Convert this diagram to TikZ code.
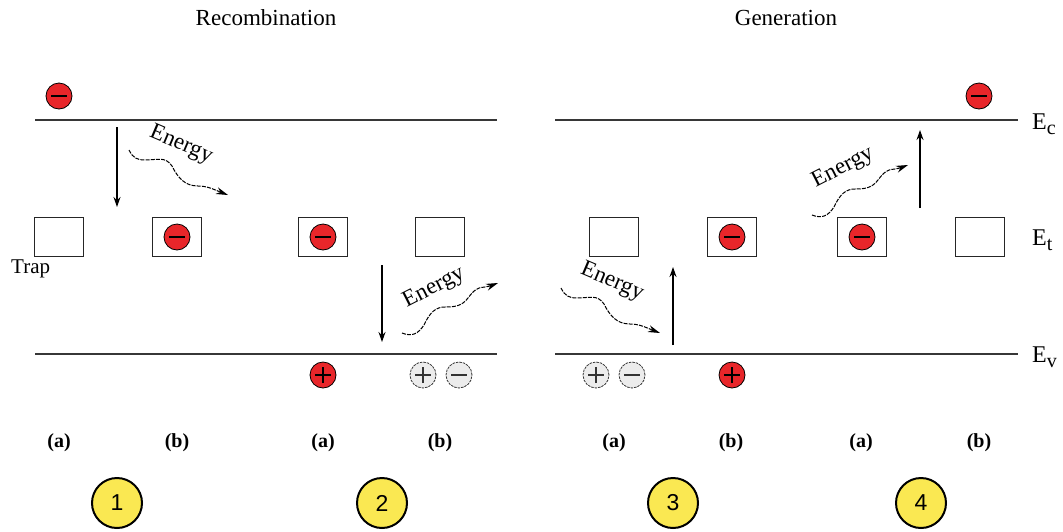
\documentclass[tikz,border=0pt]{standalone}
\usepackage{fontspec}
\setmainfont{Liberation Serif}
\newfontfamily\numfont{Liberation Sans}
\usetikzlibrary{arrows.meta}

\definecolor{elred}{RGB}{232,38,42}
\definecolor{spot}{RGB}{250,232,82}
\definecolor{ghost}{RGB}{236,236,236}
\definecolor{bandgray}{RGB}{55,55,55}

\tikzset{
  bandline/.style={line width=1.6pt, draw=bandgray},
  trapbox/.style={draw=black!85, line width=1.3pt, minimum width=49pt,
    minimum height=39pt, inner sep=0pt},
  minusbar/.style={path picture={\draw[line width=1.2pt, solid]
      ([xshift=-8pt]path picture bounding box.center) --
      ([xshift=8pt]path picture bounding box.center);}},
  plusbar/.style={path picture={\draw[line width=1.2pt, solid]
      ([xshift=-8pt]path picture bounding box.center) --
      ([xshift=8pt]path picture bounding box.center)
      ([yshift=-8pt]path picture bounding box.center) --
      ([yshift=8pt]path picture bounding box.center);}},
  carrier/.style={circle, minimum size=26pt, inner sep=0pt},
  electron/.style={carrier, fill=elred, draw=black, line width=0.8pt, minusbar},
  hole/.style={carrier, fill=elred, draw=black, line width=0.8pt, plusbar},
  ghostminus/.style={carrier, fill=ghost, draw=black!80, line width=0.8pt,
    dash pattern=on 2.5pt off 1pt, minusbar},
  ghostplus/.style={carrier, fill=ghost, draw=black!80, line width=0.8pt,
    dash pattern=on 2.5pt off 1pt, plusbar},
  jump/.style={line width=1.2pt, -{Stealth[length=10pt,width=7pt]}},
  wavy/.style={line width=1pt, dash pattern=on 4pt off 1.2pt,
    -{Stealth[length=12pt,width=7pt]}},
  energy/.style={font=\fontsize{23}{23}\selectfont, inner sep=1pt},
  title/.style={font=\fontsize{23}{23}\selectfont},
  caselabel/.style={font=\bfseries\fontsize{20}{20}\selectfont},
  stage/.style={circle, fill=spot, draw=black, line width=2pt,
    minimum size=50pt, inner sep=0pt, font=\numfont\fontsize{23}{23}\selectfont},
  level/.style={anchor=base west, inner sep=0pt, font=\fontsize{24}{24}\selectfont}
}

\newcommand{\lvl}[1]{E{\fontsize{20}{20}\selectfont\raisebox{-5pt}{#1}}}

\begin{document}
\begin{tikzpicture}[x=1pt, y=-1pt]
  \useasboundingbox (0,0) rectangle (1063,531);

  % titles
  \node[title] (trec) at (266,18) {Recombination};
  \node[title] (tgen) at (786,18) {Generation};

  % band edges
  \coordinate (ecL1) at (35,120);  \coordinate (ecL2) at (497,120);
  \coordinate (ecR1) at (555,120); \coordinate (ecR2) at (1018,120);
  \coordinate (evL1) at (35,354);  \coordinate (evL2) at (497,354);
  \coordinate (evR1) at (555,354); \coordinate (evR2) at (1018,354);
  \draw[bandline] (ecL1) -- (ecL2);
  \draw[bandline] (ecR1) -- (ecR2);
  \draw[bandline] (evL1) -- (evL2);
  \draw[bandline] (evR1) -- (evR2);

  % level labels
  \node[level] (lc) at (1032,129) {\lvl{c}};
  \node[level] (lt) at (1032,245) {\lvl{t}};
  \node[level] (lv) at (1032,362) {\lvl{v}};

  % traps
  \node[trapbox] (t1) at (59,237) {};
  \node[trapbox] (t2) at (177,237) {};
  \node[trapbox] (t3) at (323,237) {};
  \node[trapbox] (t4) at (440,237) {};
  \node[trapbox] (t5) at (614,237) {};
  \node[trapbox] (t6) at (732,237) {};
  \node[trapbox] (t7) at (862,237) {};
  \node[trapbox] (t8) at (980,237) {};
  \node[font=\fontsize{21}{21}\selectfont, anchor=west, inner sep=0pt] (trap) at (11,269) {Trap};

  % carriers
  \node[electron] (e1) at (59,96) {};
  \node[electron] (e2) at (t2) {};
  \node[electron] (e3) at (t3) {};
  \node[electron] (e6) at (t6) {};
  \node[electron] (e7) at (t7) {};
  \node[electron] (e8) at (979,96) {};
  \node[hole] (h3) at (323,375) {};
  \node[hole] (h6) at (732,375) {};
  \node[ghostplus] (g4p) at (423,375) {};
  \node[ghostminus] (g4m) at (459,375) {};
  \node[ghostplus] (g5p) at (596,375) {};
  \node[ghostminus] (g5m) at (632,375) {};

  % transitions
  \coordinate (a1s) at (117,127); \coordinate (a1e) at (117,207);
  \coordinate (a2s) at (382,265); \coordinate (a2e) at (382,342);
  \coordinate (a3s) at (673,345); \coordinate (a3e) at (673,267);
  \coordinate (a4s) at (920,208); \coordinate (a4e) at (920,130);
  \draw[jump] (a1s) -- (a1e);
  \draw[jump] (a2s) -- (a2e);
  \draw[jump] (a3s) -- (a3e);
  \draw[jump] (a4s) -- (a4e);

  % energy quanta: released (1, 2) and absorbed (3, 4)
  \draw[wavy] (129,150) .. controls (133,158) and (137,160) .. (145,160)
    .. controls (158,160) and (165,156) .. (172,166)
    .. controls (178,178) and (185,186) .. (198,186)
    .. controls (208,186) and (215,190) .. (228,195);
  \draw[wavy, shift={(432,138)}] (129,150) .. controls (133,158) and (137,160) .. (145,160)
    .. controls (158,160) and (165,156) .. (172,166)
    .. controls (178,178) and (185,186) .. (198,186)
    .. controls (208,186) and (215,190) .. (228,195);
  \draw[wavy] (402,333) .. controls (412,337) and (418,334) .. (424,325)
    .. controls (430,312) and (436,307) .. (445,307)
    .. controls (455,307) and (462,306) .. (468,298)
    .. controls (474,290) and (478,287) .. (485,287)
    .. controls (490,286) .. (498,283);
  \draw[wavy, shift={(410,-118)}] (402,333) .. controls (412,337) and (418,334) .. (424,325)
    .. controls (430,312) and (436,307) .. (445,307)
    .. controls (455,307) and (462,306) .. (468,298)
    .. controls (474,290) and (478,287) .. (485,287)
    .. controls (490,286) .. (498,283);
  \node[energy, rotate=-23] (en1) at (181,145) {Energy};
  \node[energy, rotate=27] (en2) at (434,288) {Energy};
  \node[energy, rotate=-23] (en3) at (612,282) {Energy};
  \node[energy, rotate=27] (en4) at (843,168) {Energy};

  % case labels
  \node[caselabel] (c1a) at (59,443) {(a)};
  \node[caselabel] (c1b) at (177,443) {(b)};
  \node[caselabel] (c2a) at (323,443) {(a)};
  \node[caselabel] (c2b) at (440,443) {(b)};
  \node[caselabel] (c3a) at (614,443) {(a)};
  \node[caselabel] (c3b) at (731,443) {(b)};
  \node[caselabel] (c4a) at (861,443) {(a)};
  \node[caselabel] (c4b) at (979,443) {(b)};

  % process numbers
  \node[stage] (s1) at (117,503) {1};
  \node[stage] (s2) at (382,503) {2};
  \node[stage] (s3) at (673,503) {3};
  \node[stage] (s4) at (921,503) {4};
\end{tikzpicture}
\end{document}
